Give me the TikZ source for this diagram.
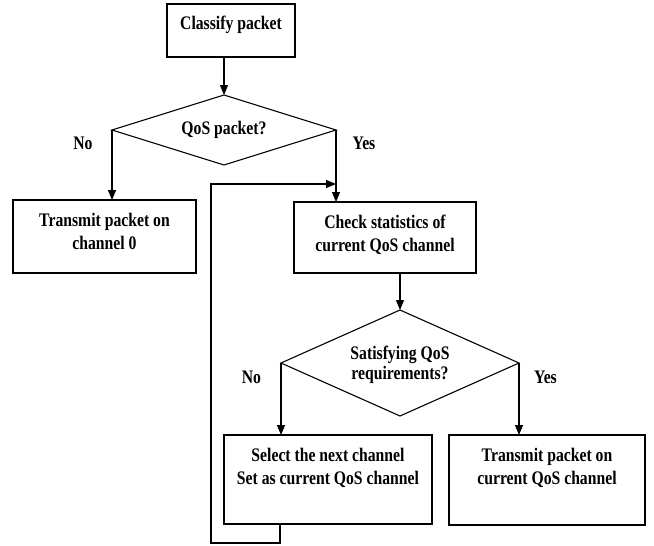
\documentclass[tikz,border=0pt]{standalone}
\usepackage{fontspec}
\setmainfont{Liberation Serif}
\usetikzlibrary{shapes.geometric,arrows.meta}
\newcommand{\vs}[1]{\scalebox{1}[1.22]{#1}}
\tikzset{
  box/.style={draw, line width=1.1pt, rectangle, inner sep=0pt, outer sep=0pt},
  dia/.style={draw, line width=1.1pt, diamond, inner sep=0pt, outer sep=0pt},
  txt/.style={inner sep=0pt, font=\bfseries\fontsize{15.7}{18.85}\selectfont, align=center},
  arr/.style={line width=1.1pt, -{Triangle[length=10pt,width=8pt]}},
  ln/.style={line width=1.1pt},
}
\begin{document}
\begin{tikzpicture}[x=1pt,y=-1pt]
\useasboundingbox (0,0) rectangle (654,546);
% boxes
\node[box, minimum width=128pt, minimum height=53pt] (cls) at (231,30.5) {};
\node[txt] (clst) at (231,25) {\vs{Classify packet}};
\node[dia, minimum width=224pt, minimum height=70pt] (qos) at (224,130) {};
\node[txt] (qost) at (224,130) {\vs{QoS packet?}};
\node[box, minimum width=183pt, minimum height=73pt] (tx0) at (104.5,236.5) {};
\node[txt] (tx0t) at (104.5,233.5) {\vs{\begin{tabular}{@{}c@{}}Transmit packet on\\channel 0\end{tabular}}};
\node[box, minimum width=182pt, minimum height=71pt] (chk) at (385,237.5) {};
\node[txt] (chkt) at (385,235) {\vs{\begin{tabular}{@{}c@{}}Check statistics of\\current QoS channel\end{tabular}}};
\node[dia, minimum width=238pt, minimum height=106pt] (sat) at (400,363) {};
\node[txt] (satt) at (400,365) {\vs{\begin{tabular}{@{}c@{}}Satisfying QoS\\[-2.5pt]requirements?\end{tabular}}};
\node[box, minimum width=208pt, minimum height=89pt] (sel) at (328,479.5) {};
\node[txt] (selt) at (328,468.5) {\vs{\begin{tabular}{@{}c@{}}Select the next channel\\Set as current QoS channel\end{tabular}}};
\node[box, minimum width=196pt, minimum height=90pt] (tx1) at (547,480) {};
\node[txt] (tx1t) at (547,468.5) {\vs{\begin{tabular}{@{}c@{}}Transmit packet on\\current QoS channel\end{tabular}}};
% labels
\node[txt] (no1) at (83,143) {\vs{No}};
\node[txt] (yes1) at (364,143) {\vs{Yes}};
\node[txt] (no2) at (251.5,377) {\vs{No}};
\node[txt] (yes2) at (545.5,377) {\vs{Yes}};
% connectors
\draw[arr] (cls.south -| qos.north) -- (qos.north);
\draw[arr] (qos.west) -- (qos.west |- tx0.north);
\draw[arr] (qos.east) -- (qos.east |- chk.north);
\draw[arr] (chk.south -| sat.north) -- (sat.north);
\draw[arr] (sat.west) -- (sat.west |- sel.north);
\draw[arr] (sat.east) -- (sat.east |- tx1.north);
\coordinate (l1) at (280,543);
\coordinate (l2) at (211,184);
\draw[arr] (sel.south -| l1) -- (l1) -| (l2) -- (l2 -| qos.east);
\end{tikzpicture}
\end{document}
